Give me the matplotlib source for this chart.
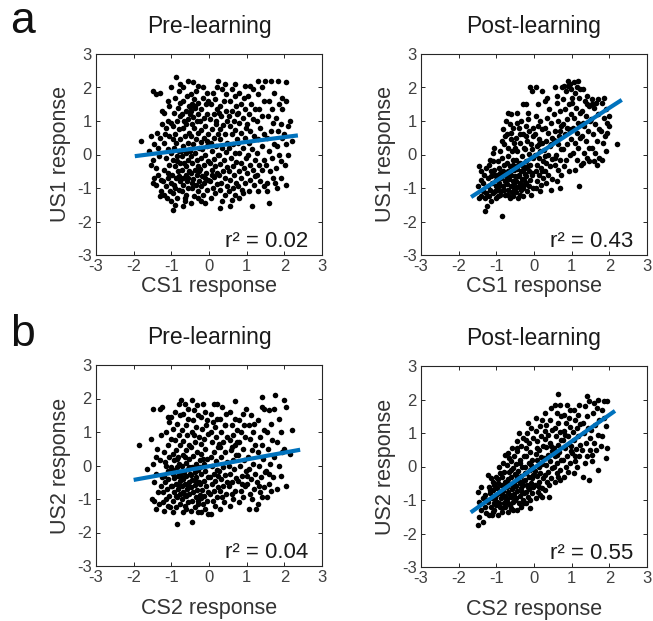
import numpy as np
import matplotlib
matplotlib.use("Agg")
import matplotlib.pyplot as plt

plt.rcParams['font.family'] = ['Liberation Sans', 'DejaVu Sans']
plt.rcParams['axes.unicode_minus'] = False

# ---- data (x = CS response, y = US response) ----
pre1 = [(-1.8,0.4),(-1.55,0.55),(-1.5,1.9),(-1.42,1.8),(-1.55,-0.3),(-1.5,-0.85),(-1.45,-0.7),(-1.6,0.1),(-1.45,0.3),(-1.5,-0.15),
        (-1.4,-0.9),(-1.35,-0.6),(-1.3,-1.25),(-1.28,-1.1),(-1.35,0.2),(-1.3,0.5),(-1.25,0.9),(-1.3,1.85),(-1.4,-0.4),(-1.32,-0.05),(-1.27,-0.75),(-1.38,0.65),(-1.26,1.3),
        (-1.2,-1.2),(-1.15,-0.95),(-1.1,-0.7),(-1.2,-0.45),(-1.05,-0.3),(-1.15,-0.1),(-1.1,0.15),(-1.2,0.35),(-1.05,0.55),(-1.15,0.8),(-1.1,1.0),(-1.2,1.25),(-1.05,1.45),(-1.0,-1.4),(-1.12,-1.3),(-1.0,-0.85),(-1.08,-0.55),(-1.02,0.05),(-1.18,0.6),(-1.0,0.95),(-1.1,1.6),(-1.0,2.0),(-1.22,-0.8),(-1.03,-1.1),
        (-0.95,-1.65),(-0.9,-1.5),(-0.85,-1.3),(-0.95,-1.15),(-0.8,-1.05),(-0.92,-0.9),(-0.78,-0.8),(-0.88,-0.7),(-0.97,-0.6),(-0.82,-0.5),(-0.9,-0.35),(-0.77,-0.25),(-0.95,-0.15),(-0.85,-0.05),(-0.8,0.1),(-0.93,0.2),(-0.87,0.35),(-0.76,0.45),(-0.9,0.6),(-0.8,0.75),(-0.95,0.85),(-0.85,1.0),(-0.78,1.15),(-0.92,1.25),(-0.83,1.4),(-0.76,1.55),(-0.9,1.7),(-0.8,1.9),(-0.88,2.3),(-0.77,2.1),(-0.96,0.45),(-0.8,-0.65),(-0.9,-1.0),(-0.84,-0.2),
        (-0.7,-1.55),(-0.65,-1.4),(-0.6,-1.2),(-0.72,-1.1),(-0.55,-1.0),(-0.68,-0.9),(-0.58,-0.8),(-0.7,-0.7),(-0.62,-0.6),(-0.52,-0.5),(-0.73,-0.45),(-0.6,-0.35),(-0.67,-0.25),(-0.55,-0.15),(-0.72,-0.05),(-0.6,0.05),(-0.5,0.15),(-0.7,0.25),(-0.57,0.35),(-0.65,0.55),(-0.52,0.65),(-0.7,0.8),(-0.6,0.9),(-0.55,1.05),(-0.72,1.2),(-0.62,1.3),(-0.53,1.45),(-0.68,1.6),(-0.58,1.75),(-0.7,2.0),(-0.55,2.2),(-0.63,-1.3),(-0.56,-0.7),(-0.74,0.1),(-0.51,1.2),(-0.66,1.0),
        (-0.48,-1.45),(-0.4,-1.25),(-0.3,-1.1),(-0.45,-1.0),(-0.35,-0.9),(-0.27,-0.8),(-0.42,-0.72),(-0.32,-0.62),(-0.47,-0.55),(-0.38,-0.45),(-0.28,-0.35),(-0.44,-0.25),(-0.33,-0.15),(-0.48,-0.05),(-0.38,0.05),(-0.27,0.2),(-0.43,0.3),(-0.35,0.45),(-0.48,0.55),(-0.3,0.65),(-0.4,0.78),(-0.46,0.9),(-0.33,1.0),(-0.42,1.12),(-0.28,1.2),(-0.48,1.3),(-0.37,1.38),(-0.44,1.5),(-0.3,1.55),(-0.4,1.65),(-0.47,1.8),(-0.35,1.9),(-0.42,2.15),(-0.28,2.05),(-0.3,-1.3),(-0.45,-0.85),(-0.26,-0.5),(-0.5,0.1),(-0.36,1.45),(-0.5,1.42),
        (-0.2,-1.4),(-0.1,-1.45),(-0.15,-1.2),(-0.05,-1.05),(-0.22,-0.95),(-0.12,-0.85),(-0.02,-0.75),(-0.18,-0.65),(-0.08,-0.55),(-0.23,-0.42),(-0.13,-0.3),(-0.03,-0.2),(-0.2,-0.1),(-0.1,0.0),(-0.18,0.15),(-0.05,0.25),(-0.22,0.38),(-0.12,0.5),(-0.02,0.62),(-0.2,0.72),(-0.1,0.85),(-0.24,1.0),(-0.14,1.1),(-0.04,1.2),(-0.2,1.35),(-0.08,1.5),(-0.17,1.7),(-0.05,1.85),(-0.15,2.0),(-0.02,1.6),(-0.1,-0.7),(-0.06,0.4),
        (0.05,-1.3),(0.15,-1.15),(0.1,-1.0),(0.22,-0.88),(0.03,-0.8),(0.13,-0.68),(0.2,-0.55),(0.07,-0.45),(0.17,-0.35),(0.02,-0.25),(0.12,-0.12),(0.23,0.0),(0.08,0.1),(0.18,0.25),(0.04,0.35),(0.14,0.48),(0.24,0.6),(0.09,0.75),(0.19,0.9),(0.03,1.05),(0.13,1.2),(0.22,1.35),(0.06,1.5),(0.16,1.65),(0.1,1.85),(0.2,2.0),(0.24,2.2),(0.08,-0.6),(0.18,1.0),
        (0.3,-1.6),(0.35,-1.4),(0.42,-1.2),(0.28,-1.05),(0.47,-0.95),(0.33,-0.85),(0.43,-0.7),(0.27,-0.6),(0.38,-0.5),(0.48,-0.38),(0.3,-0.28),(0.4,-0.15),(0.27,-0.02),(0.45,0.08),(0.35,0.2),(0.48,0.35),(0.3,0.45),(0.42,0.6),(0.28,0.75),(0.38,0.88),(0.47,1.0),(0.32,1.15),(0.44,1.3),(0.3,1.45),(0.4,1.6),(0.46,1.8),(0.35,1.95),(0.43,2.1),(0.27,1.25),
        (0.55,-1.55),(0.6,-1.35),(0.7,-1.2),(0.52,-1.1),(0.65,-1.0),(0.72,-0.85),(0.57,-0.75),(0.67,-0.6),(0.53,-0.48),(0.63,-0.35),(0.73,-0.22),(0.58,-0.1),(0.68,0.05),(0.54,0.2),(0.64,0.32),(0.74,0.45),(0.6,0.6),(0.7,0.72),(0.55,0.85),(0.66,1.0),(0.52,1.15),(0.62,1.3),(0.72,1.45),(0.57,1.6),(0.68,1.75),(0.6,1.95),(0.7,2.1),(0.74,1.2),
        (0.8,-1.3),(0.9,-1.15),(0.78,-0.95),(0.95,-0.85),(0.85,-0.7),(0.8,-0.5),(0.92,-0.4),(0.85,-0.25),(0.97,-0.1),(0.8,0.05),(0.9,0.2),(0.78,0.35),(0.95,0.5),(0.85,0.65),(0.98,0.8),(0.8,0.95),(0.9,1.1),(0.77,1.25),(0.95,1.35),(0.85,1.5),(0.92,1.7),(0.8,1.85),(0.95,2.05),(0.88,-1.05),
        (1.15,-1.55),(1.05,-1.1),(1.2,-0.9),(1.1,-0.75),(1.02,-0.55),(1.18,-0.45),(1.08,-0.3),(1.22,-0.15),(1.04,0.0),(1.15,0.15),(1.05,0.35),(1.2,0.55),(1.1,0.7),(1.02,0.9),(1.17,1.05),(1.07,1.2),(1.22,1.35),(1.12,1.5),(1.03,1.75),(1.18,1.95),(1.08,2.05),(1.22,-0.65),
        (1.3,-1.1),(1.45,-0.95),(1.35,-0.8),(1.27,-0.6),(1.42,-0.45),(1.32,-0.3),(1.47,-0.15),(1.28,0.05),(1.4,0.25),(1.3,0.45),(1.45,0.6),(1.35,0.8),(1.27,1.0),(1.42,1.15),(1.32,1.35),(1.47,1.6),(1.3,1.8),(1.4,2.0),(1.3,2.2),(1.48,2.2),
        (1.6,-1.45),(1.55,-0.85),(1.7,-0.7),(1.62,-0.5),(1.52,-0.3),(1.68,-0.1),(1.58,0.1),(1.72,0.3),(1.55,0.5),(1.65,0.7),(1.7,0.95),(1.57,1.15),(1.67,1.35),(1.6,1.6),(1.72,1.85),(1.65,2.2),(1.53,-1.1),
        (1.8,-1.0),(1.9,-0.7),(1.78,-0.4),(1.92,-0.2),(1.85,0.0),(1.8,0.25),(1.95,0.5),(1.82,0.7),(1.9,0.9),(1.78,1.1),(1.95,1.35),(1.85,1.5),(1.95,1.7),(1.83,2.2),(1.76,-0.85),
        (2.05,-0.9),(2.02,-0.3),(2.1,0.0),(2.05,0.3),(2.2,0.4),(2.0,0.6),(2.15,1.0),(2.05,1.6),(2.05,2.15),(2.1,0.85)]

post1 = [(-1.45,-0.35),(-1.4,-0.5),(-1.48,-0.95),(-1.35,-1.1),(-1.42,-1.25),(-1.3,-1.3),(-1.27,-1.15),(-1.4,-0.75),(-1.32,-0.6),(-1.45,-1.3),(-1.3,-1.7),(-1.25,-1.55),(-1.35,-0.85),(-1.28,-0.4),
         (-1.2,-0.3),(-1.1,-0.2),(-1.15,-0.5),(-1.05,-0.6),(-1.22,-0.7),(-1.12,-0.85),(-1.02,-0.95),(-1.18,-1.05),(-1.08,-1.15),(-1.2,-1.25),(-1.0,-1.3),(-1.15,-1.4),(-1.05,-0.45),(-1.1,0.05),(-1.23,-0.95),(-1.0,-0.75),(-1.13,-0.65),(-1.03,-1.1),(-1.17,-0.15),(-1.06,0.2),
         (-0.95,-0.2),(-0.85,-0.1),(-0.9,0.1),(-0.8,0.3),(-0.78,0.55),(-0.75,1.0),(-0.83,0.75),(-0.92,-0.4),(-0.82,-0.5),(-0.97,-0.6),(-0.87,-0.7),(-0.77,-0.8),(-0.93,-0.85),(-0.83,-0.95),(-0.98,-1.05),(-0.88,-1.1),(-0.78,-1.2),(-0.95,-1.25),(-0.85,-1.85),(-0.8,-0.3),(-0.9,-0.55),(-0.76,-0.6),(-0.86,0.4),(-0.94,-0.95),(-0.8,-1.05),(-0.9,-1.2),
         (-0.7,1.25),(-0.6,1.2),(-0.65,0.9),(-0.55,0.8),(-0.72,0.6),(-0.62,0.45),(-0.52,0.35),(-0.7,0.2),(-0.58,0.1),(-0.68,-0.05),(-0.55,-0.15),(-0.73,-0.25),(-0.63,-0.35),(-0.52,-0.45),(-0.7,-0.5),(-0.6,-0.6),(-0.5,-0.65),(-0.67,-0.72),(-0.57,-0.8),(-0.72,-0.88),(-0.62,-0.95),(-0.52,-1.0),(-0.68,-1.05),(-0.58,-1.12),(-0.7,-1.2),(-0.55,-1.25),(-0.64,-1.3),(-0.53,-0.85),(-0.66,-0.55),(-0.56,-0.3),(-0.74,-0.65),(-0.6,0.65),
         (-0.45,1.25),(-0.35,1.0),(-0.4,0.8),(-0.3,0.6),(-0.47,0.5),(-0.37,0.35),(-0.27,0.2),(-0.44,0.1),(-0.33,-0.05),(-0.48,-0.15),(-0.38,-0.25),(-0.28,-0.35),(-0.45,-0.42),(-0.35,-0.5),(-0.25,-0.58),(-0.42,-0.65),(-0.32,-0.72),(-0.47,-0.8),(-0.37,-0.85),(-0.27,-0.9),(-0.44,-0.98),(-0.34,-1.05),(-0.48,-1.12),(-0.38,-1.2),(-0.28,-1.25),(-0.43,-1.3),(-0.3,-0.45),(-0.4,-0.6),(-0.26,-0.75),(-0.46,0.95),(-0.3,1.5),(-0.36,0.6),(-0.5,0.2),(-0.42,-0.3),(-0.29,-1.0),(-0.39,-0.95),
         (-0.2,1.5),(-0.1,2.0),(-0.05,1.9),(-0.15,1.05),(-0.22,0.85),(-0.12,0.7),(-0.02,0.55),(-0.18,0.4),(-0.08,0.3),(-0.23,0.15),(-0.13,0.02),(-0.03,-0.1),(-0.2,-0.2),(-0.1,-0.3),(-0.24,-0.4),(-0.14,-0.5),(-0.04,-0.55),(-0.2,-0.65),(-0.1,-0.75),(-0.22,-0.85),(-0.12,-0.95),(-0.02,-1.0),(-0.18,-1.1),(-0.08,-1.2),(-0.15,-0.35),(-0.05,0.15),(-0.03,0.8),(-0.17,1.25),(-0.06,-0.6),(-0.2,0.55),
         (0.05,1.15),(0.15,1.0),(0.1,0.85),(0.2,0.75),(0.03,0.6),(0.13,0.45),(0.22,0.35),(0.07,0.25),(0.17,0.1),(0.02,0.0),(0.12,-0.1),(0.23,-0.2),(0.08,-0.3),(0.18,-0.4),(0.04,-0.5),(0.14,-0.6),(0.24,-0.7),(0.09,-0.8),(0.19,-0.9),(0.05,-1.0),(0.15,-1.1),(0.1,1.5),(0.2,1.9),(0.05,2.0),(0.12,0.3),(0.22,-0.5),
         (0.3,1.6),(0.4,1.35),(0.35,1.1),(0.45,0.95),(0.28,0.8),(0.38,0.65),(0.48,0.5),(0.33,0.4),(0.43,0.25),(0.27,0.12),(0.37,0.0),(0.47,-0.12),(0.32,-0.25),(0.42,-0.35),(0.28,-0.48),(0.38,-0.6),(0.48,-0.72),(0.33,-0.85),(0.45,-1.05),(0.35,1.7),(0.45,0.3),(0.3,-0.05),
         (0.55,2.0),(0.6,1.55),(0.7,1.3),(0.52,1.2),(0.65,1.0),(0.72,0.85),(0.57,0.7),(0.67,0.55),(0.53,0.42),(0.63,0.3),(0.73,0.15),(0.58,0.0),(0.68,-0.15),(0.55,-0.3),(0.65,-0.45),(0.73,-0.6),(0.7,-1.0),(0.6,-0.8),(0.75,2.0),(0.62,1.75),(0.7,0.7),(0.56,-0.1),
         (0.8,2.05),(0.9,2.2),(0.95,2.1),(0.85,1.9),(0.78,1.65),(0.92,1.5),(0.82,1.35),(0.97,1.2),(0.87,1.05),(0.77,0.9),(0.93,0.75),(0.83,0.6),(0.98,0.45),(0.88,0.3),(0.78,0.15),(0.95,0.0),(0.85,-0.15),(0.8,-0.35),(0.92,-0.5),(0.97,1.95),(0.88,0.8),(0.9,2.05),
         (1.05,2.15),(1.15,2.0),(1.1,1.85),(1.2,1.7),(1.02,1.55),(1.12,1.4),(1.22,1.25),(1.07,1.1),(1.17,0.95),(1.03,0.8),(1.13,0.65),(1.23,0.5),(1.08,0.35),(1.18,0.2),(1.04,0.05),(1.14,-0.15),(1.24,-0.3),(1.2,-0.95),(1.1,-0.45),(1.0,1.7),(1.18,2.2),(1.22,1.95),
         (1.3,1.95),(1.4,1.75),(1.35,1.6),(1.45,1.45),(1.28,1.3),(1.38,1.15),(1.48,1.0),(1.33,0.85),(1.43,0.7),(1.27,0.55),(1.37,0.4),(1.47,0.2),(1.32,0.05),(1.42,-0.1),(1.3,-0.25),(1.45,-0.2),(1.4,1.5),(1.3,0.95),
         (1.55,1.65),(1.65,1.55),(1.6,1.4),(1.7,1.2),(1.52,1.05),(1.62,0.9),(1.72,0.75),(1.57,0.6),(1.67,0.4),(1.53,0.2),(1.63,0.05),(1.73,-0.1),(1.58,-0.2),(1.68,-0.3),(1.55,1.5),(1.7,1.65),
         (1.8,1.55),(1.9,1.35),(1.85,1.1),(1.95,0.95),(1.78,0.7),(1.88,0.55),(1.98,0.85),(1.82,0.35),(1.92,0.1),(1.8,-0.15),(2.0,1.15),(2.2,0.3),(1.95,0.65),(1.85,1.7)]

pre2 = [(-1.85,0.6),(-1.65,-0.1),(-1.55,0.8),(-1.5,1.7),(-1.52,-1.0),(-1.5,0.05),
        (-1.45,-1.05),(-1.4,-1.3),(-1.35,-0.8),(-1.28,-0.6),(-1.42,-0.25),(-1.3,0.15),(-1.38,0.5),(-1.27,0.9),(-1.25,1.75),(-1.3,1.7),(-1.45,-0.5),(-1.33,-1.15),(-1.26,-0.35),(-1.4,0.25),
        (-1.2,-1.35),(-1.1,-1.2),(-1.15,-1.0),(-1.05,-0.9),(-1.22,-0.8),(-1.12,-0.7),(-1.02,-0.6),(-1.18,-0.5),(-1.08,-0.4),(-1.2,-0.3),(-1.1,-0.15),(-1.0,-0.05),(-1.17,0.1),(-1.07,0.25),(-1.2,0.4),(-1.1,0.6),(-1.0,0.8),(-1.15,1.0),(-1.05,1.3),(-1.1,1.45),(-1.02,1.45),(-1.22,-1.1),(-1.03,-1.25),(-1.14,0.0),
        (-0.95,-1.4),(-0.85,-1.75),(-0.88,-1.25),(-0.78,-1.15),(-0.95,-1.05),(-0.85,-0.95),(-0.76,-0.85),(-0.92,-0.78),(-0.82,-0.7),(-0.97,-0.62),(-0.87,-0.55),(-0.77,-0.45),(-0.93,-0.38),(-0.83,-0.3),(-0.78,-0.2),(-0.95,-0.12),(-0.85,-0.05),(-0.8,0.05),(-0.92,0.15),(-0.83,0.25),(-0.96,0.35),(-0.87,0.45),(-0.78,0.6),(-0.9,0.75),(-0.8,0.9),(-0.95,1.1),(-0.85,1.25),(-0.77,1.5),(-0.9,1.6),(-0.8,1.85),(-0.75,1.95),(-0.88,-0.9),(-0.8,-0.6),(-0.96,-0.25),(-0.86,0.2),
        (-0.7,-1.4),(-0.6,-1.3),(-0.65,-1.2),(-0.55,-1.1),(-0.72,-1.0),(-0.62,-0.92),(-0.52,-0.85),(-0.68,-0.78),(-0.58,-0.7),(-0.73,-0.62),(-0.63,-0.55),(-0.53,-0.48),(-0.7,-0.4),(-0.6,-0.32),(-0.5,-0.25),(-0.67,-0.18),(-0.57,-0.1),(-0.72,-0.02),(-0.62,0.08),(-0.52,0.18),(-0.7,0.3),(-0.6,0.45),(-0.53,0.6),(-0.68,0.72),(-0.58,0.9),(-0.72,1.05),(-0.6,1.2),(-0.55,1.4),(-0.68,1.55),(-0.57,1.7),(-0.65,1.85),(-0.66,-0.85),(-0.56,-0.6),(-0.74,-0.3),(-0.54,-0.05),(-0.64,0.25),
        (-0.45,-1.7),(-0.48,-1.35),(-0.38,-1.25),(-0.28,-1.15),(-0.45,-1.05),(-0.35,-0.95),(-0.25,-0.88),(-0.42,-0.8),(-0.32,-0.72),(-0.47,-0.65),(-0.37,-0.58),(-0.27,-0.5),(-0.44,-0.42),(-0.34,-0.35),(-0.48,-0.28),(-0.38,-0.2),(-0.28,-0.12),(-0.45,-0.05),(-0.35,0.05),(-0.25,0.15),(-0.42,0.28),(-0.32,0.4),(-0.47,0.55),(-0.37,0.7),(-0.27,0.85),(-0.45,1.0),(-0.35,1.15),(-0.42,1.35),(-0.3,1.5),(-0.4,1.65),(-0.32,1.8),(-0.45,1.95),(-0.35,-0.45),(-0.3,-1.05),(-0.4,0.9),(-0.3,-1.4),
        (-0.2,-1.4),(-0.1,-1.3),(-0.15,-1.15),(-0.05,-1.05),(-0.22,-0.98),(-0.12,-0.9),(-0.02,-0.8),(-0.18,-0.72),(-0.08,-0.62),(-0.23,-0.55),(-0.13,-0.45),(-0.03,-0.35),(-0.2,-0.25),(-0.1,-0.15),(-0.24,-0.05),(-0.14,0.05),(-0.04,0.2),(-0.2,0.35),(-0.1,0.5),(-0.22,0.65),(-0.12,0.8),(-0.02,0.95),(-0.18,1.1),(-0.08,1.2),(-0.2,1.45),(-0.1,1.6),(-0.05,1.35),(-0.15,1.85),(-0.03,-1.45),(-0.16,0.2),
        (0.05,-1.45),(0.15,-1.2),(0.1,-1.05),(0.2,-0.95),(0.03,-0.85),(0.13,-0.75),(0.23,-0.65),(0.07,-0.55),(0.17,-0.45),(0.02,-0.35),(0.12,-0.25),(0.22,-0.12),(0.08,0.0),(0.18,0.12),(0.04,0.25),(0.14,0.4),(0.24,0.55),(0.09,0.7),(0.19,0.85),(0.05,1.0),(0.15,1.15),(0.1,1.3),(0.2,1.4),(0.06,1.55),(0.22,1.85),(0.12,1.85),(0.25,-0.3),
        (0.3,-1.3),(0.4,-1.1),(0.35,-0.95),(0.45,-0.85),(0.28,-0.75),(0.38,-0.62),(0.48,-0.5),(0.33,-0.4),(0.43,-0.28),(0.27,-0.15),(0.37,-0.05),(0.47,0.1),(0.32,0.25),(0.42,0.4),(0.28,0.55),(0.38,0.7),(0.48,0.85),(0.33,1.0),(0.43,1.2),(0.3,1.4),(0.45,1.55),(0.35,1.75),(0.42,1.2),(0.27,0.65),
        (0.55,-1.2),(0.65,-1.0),(0.6,-0.85),(0.7,-0.75),(0.52,-0.6),(0.62,-0.5),(0.72,-0.38),(0.57,-0.25),(0.67,-0.1),(0.53,0.0),(0.63,0.15),(0.73,0.3),(0.58,0.45),(0.68,0.6),(0.55,0.75),(0.65,0.9),(0.75,1.05),(0.6,1.2),(0.7,1.4),(0.55,1.6),(0.7,1.92),(0.62,0.55),(0.74,0.7),
        (0.8,-1.1),(0.9,-0.95),(0.85,-0.75),(0.95,-0.6),(0.78,-0.45),(0.88,-0.3),(0.98,-0.15),(0.83,0.0),(0.93,0.15),(0.78,0.3),(0.9,0.5),(0.8,0.7),(0.95,0.85),(0.85,1.0),(0.92,1.2),(0.8,1.35),(0.9,1.55),(0.97,1.7),(0.87,-0.55),
        (1.05,-1.3),(1.15,-1.0),(1.1,-0.85),(1.2,-0.7),(1.02,-0.55),(1.12,-0.4),(1.22,-0.25),(1.07,-0.1),(1.17,0.05),(1.03,0.25),(1.13,0.45),(1.23,0.6),(1.08,0.8),(1.18,1.0),(1.05,1.2),(1.2,1.25),(1.12,1.5),(1.0,-0.3),
        (1.25,-1.3),(1.3,-1.15),(1.4,-0.95),(1.35,-0.8),(1.45,-0.65),(1.28,-0.5),(1.38,-0.35),(1.48,-0.2),(1.33,0.0),(1.43,0.2),(1.3,0.4),(1.4,0.6),(1.35,0.85),(1.45,1.05),(1.3,1.35),(1.4,1.75),(1.45,1.7),(1.4,2.05),(1.32,-0.6),
        (1.55,-0.95),(1.65,-0.75),(1.6,-0.55),(1.7,-0.35),(1.52,-0.15),(1.62,0.05),(1.72,0.25),(1.57,0.5),(1.67,0.75),(1.55,1.0),(1.65,1.25),(1.6,1.65),(1.72,1.7),(1.75,2.1),(1.6,-0.25),
        (1.8,-0.7),(1.9,-0.3),(1.85,0.0),(1.95,0.4),(1.8,0.7),(1.9,1.0),(1.85,1.4),(2.05,1.75),(2.0,1.95),(2.05,-0.6),(2.2,1.05),(2.0,0.5),(2.15,0.35)]

post2 = [(-1.5,-1.75),(-1.45,-1.5),(-1.35,-1.65),(-1.4,-1.3),(-1.3,-1.2),(-1.45,-1.05),(-1.48,-0.75),(-1.35,-0.95),(-1.28,-1.4),(-1.4,-0.6),(-1.3,-0.85),(-1.25,-1.0),
         (-1.2,-1.45),(-1.1,-1.35),(-1.15,-1.2),(-1.05,-1.1),(-1.22,-1.05),(-1.12,-0.95),(-1.02,-0.85),(-1.18,-0.8),(-1.08,-0.7),(-1.2,-0.6),(-1.1,-0.45),(-1.0,-0.3),(-1.15,-0.35),(-1.05,-1.3),(-1.23,-0.25),(-1.12,-1.45),(-1.0,-1.15),(-1.07,-0.55),(-1.17,-0.7),(-1.03,-0.95),
         (-0.95,-1.45),(-0.85,-1.35),(-0.9,-1.2),(-0.8,-1.1),(-0.97,-1.05),(-0.87,-0.95),(-0.77,-0.88),(-0.93,-0.8),(-0.83,-0.72),(-0.98,-0.65),(-0.88,-0.55),(-0.78,-0.45),(-0.95,-0.38),(-0.85,-0.3),(-0.8,-0.15),(-0.92,0.0),(-0.82,0.1),(-0.76,0.35),(-0.9,-0.2),(-0.86,-1.25),(-0.78,-1.2),(-0.94,-1.1),(-0.8,-0.6),(-0.75,-1.0),(-0.84,-0.85),(-0.96,-0.5),
         (-0.7,-1.35),(-0.6,-1.25),(-0.65,-1.15),(-0.55,-1.05),(-0.72,-0.98),(-0.62,-0.9),(-0.52,-0.82),(-0.68,-0.75),(-0.58,-0.68),(-0.73,-0.6),(-0.63,-0.52),(-0.53,-0.45),(-0.7,-0.38),(-0.6,-0.3),(-0.5,-0.22),(-0.67,-0.15),(-0.57,-0.05),(-0.72,0.05),(-0.62,0.15),(-0.52,0.3),(-0.68,0.4),(-0.58,0.55),(-0.65,-0.85),(-0.55,-0.6),(-0.74,-0.45),(-0.56,-1.3),(-0.66,0.25),(-0.51,-1.0),(-0.6,-0.1),(-0.7,-1.1),
         (-0.45,-1.3),(-0.35,-1.2),(-0.4,-1.1),(-0.3,-1.0),(-0.47,-0.95),(-0.37,-0.88),(-0.27,-0.8),(-0.44,-0.72),(-0.34,-0.65),(-0.48,-0.58),(-0.38,-0.5),(-0.28,-0.42),(-0.45,-0.35),(-0.35,-0.28),(-0.25,-0.2),(-0.42,-0.12),(-0.32,-0.02),(-0.47,0.08),(-0.37,0.2),(-0.27,0.3),(-0.44,0.45),(-0.34,0.6),(-0.45,0.75),(-0.3,0.85),(-0.4,1.0),(-0.33,-0.75),(-0.42,-0.4),(-0.28,-0.55),(-0.48,-0.25),(-0.36,0.1),(-0.26,-1.1),(-0.46,0.55),
         (-0.2,-1.1),(-0.1,-1.0),(-0.15,-0.9),(-0.05,-0.8),(-0.22,-0.75),(-0.12,-0.68),(-0.02,-0.6),(-0.18,-0.55),(-0.08,-0.48),(-0.23,-0.4),(-0.13,-0.32),(-0.03,-0.25),(-0.2,-0.18),(-0.1,-0.1),(-0.24,0.0),(-0.14,0.1),(-0.04,0.2),(-0.2,0.3),(-0.1,0.42),(-0.22,0.55),(-0.12,0.7),(-0.02,0.85),(-0.18,1.0),(-0.08,1.15),(-0.15,1.3),(-0.05,-0.35),(-0.17,-0.62),(-0.07,0.05),(-0.2,0.8),(-0.1,-1.25),
         (0.05,-0.95),(0.15,-0.85),(0.1,-0.75),(0.2,-0.65),(0.03,-0.55),(0.13,-0.45),(0.23,-0.35),(0.07,-0.28),(0.17,-0.2),(0.02,-0.12),(0.12,-0.02),(0.22,0.08),(0.08,0.18),(0.18,0.28),(0.04,0.38),(0.14,0.5),(0.24,0.62),(0.09,0.75),(0.19,0.9),(0.05,1.05),(0.15,1.2),(0.05,1.45),(0.2,1.4),(0.12,-0.6),(0.22,-0.9),(0.08,0.55),
         (0.3,-0.7),(0.4,-0.55),(0.35,-0.45),(0.45,-0.35),(0.28,-0.25),(0.38,-0.15),(0.48,-0.05),(0.33,0.05),(0.43,0.15),(0.27,0.25),(0.37,0.35),(0.47,0.45),(0.32,0.58),(0.42,0.7),(0.28,0.82),(0.38,0.95),(0.48,1.1),(0.33,1.25),(0.43,1.4),(0.3,1.6),(0.45,1.75),(0.4,-0.9),(0.3,1.05),(0.45,0.6),
         (0.55,-0.45),(0.65,-0.3),(0.6,-0.2),(0.7,-0.1),(0.52,0.0),(0.62,0.1),(0.72,0.2),(0.57,0.3),(0.67,0.42),(0.53,0.55),(0.63,0.65),(0.73,0.78),(0.58,0.9),(0.68,1.02),(0.55,1.15),(0.65,1.3),(0.72,1.5),(0.6,1.6),(0.65,2.15),(0.7,1.85),(0.55,1.85),(0.62,0.35),(0.7,-0.4),
         (0.8,-0.3),(0.9,-0.15),(0.85,0.0),(0.95,0.1),(0.78,0.2),(0.88,0.32),(0.98,0.45),(0.83,0.55),(0.93,0.68),(0.78,0.8),(0.9,0.92),(0.8,1.05),(0.95,1.18),(0.85,1.3),(0.92,1.45),(0.8,1.55),(0.95,1.7),(0.88,1.85),(0.82,0.95),(0.97,0.6),
         (1.05,-0.2),(1.15,0.0),(1.1,0.15),(1.2,0.3),(1.02,0.4),(1.12,0.52),(1.22,0.65),(1.07,0.78),(1.17,0.9),(1.03,1.02),(1.13,1.15),(1.23,1.28),(1.08,1.4),(1.18,1.55),(1.05,1.7),(1.2,1.85),(1.1,0.3),
         (1.3,-0.3),(1.45,-0.4),(1.35,0.1),(1.4,0.3),(1.28,0.5),(1.38,0.7),(1.48,0.85),(1.33,1.0),(1.43,1.15),(1.3,1.3),(1.4,1.5),(1.35,1.8),(1.45,1.95),(1.4,2.1),(1.48,0.5),
         (1.55,0.35),(1.65,0.5),(1.6,0.7),(1.7,0.95),(1.52,1.1),(1.62,1.25),(1.72,1.4),(1.57,1.6),(1.67,1.75),(1.6,1.9),(1.7,2.0),(1.7,-0.1),(1.55,0.15),
         (1.8,0.9),(1.9,1.2),(1.85,1.45),(1.95,0.55),(1.9,0.25),(1.8,1.7),(1.95,1.95),(1.85,1.95),(1.78,0.6)]

# regression line end points (x, y) as drawn
fit_pre1 = ([-1.97, 2.36], [-0.05, 0.57])
fit_post1 = ([-1.67, 2.33], [-1.27, 1.63])
fit_pre2 = ([-2.0, 2.42], [-0.43, 0.47])
fit_post2 = ([-1.68, 2.15], [-1.37, 1.66])

r2_labels = ["0.02", "0.43", "0.04", "0.55"]
titles = ["Pre-learning", "Post-learning", "Pre-learning", "Post-learning"]
xlabels = ["CS1 response", "CS1 response", "CS2 response", "CS2 response"]
ylabels = ["US1 response", "US1 response", "US2 response", "US2 response"]
ticks = [-3, -2, -1, 0, 1, 2, 3]

axcol = "#262626"
blue = "#0072BD"

fig = plt.figure(figsize=(6.53, 6.21), dpi=100)
W, H = 653, 621
boxes = [(96, 54), (421, 54), (96, 365), (421, 366)]
panels = [pre1, post1, pre2, post2]
fits = [fit_pre1, fit_post1, fit_pre2, fit_post2]

for i in range(4):
    left, top = boxes[i]
    ax = fig.add_axes([left / W, 1 - (top + 201) / H, 226 / W, 201 / H])
    pts = np.array(panels[i])
    ax.scatter(pts[:, 0], pts[:, 1], s=16, color="black", linewidths=0, zorder=2)
    ax.plot(fits[i][0], fits[i][1], color=blue, lw=3, solid_capstyle="butt", zorder=3)
    ax.set_xlim(-3, 3)
    ax.set_ylim(-3, 3)
    ax.set_xticks(ticks)
    ax.set_yticks(ticks)
    ax.tick_params(direction="in", length=3, width=0.7, top=True, right=True,
                   labelsize=12, colors=axcol, labelcolor="#404040", pad=3)
    for sp in ax.spines.values():
        sp.set_color(axcol)
        sp.set_linewidth(0.8)
    ax.set_title(titles[i], fontsize=16.5, color="#1a1a1a", pad=15)
    ax.set_xlabel(xlabels[i], fontsize=15.5, color="#333333", labelpad=1 if i < 2 else 9)
    ax.set_ylabel(ylabels[i], fontsize=15.5, color="#333333", labelpad=4)
    ax.text(0.94, 0.04, "r\u00b2 = " + r2_labels[i], transform=ax.transAxes,
            ha="right", va="baseline", fontsize=16, color="#1a1a1a")

fig.text(10 / W, 1 - 33 / H, "a", fontsize=32, ha="left", va="baseline", color="#111111")
fig.text(10 / W, 1 - 346 / H, "b", fontsize=32, ha="left", va="baseline", color="#111111")

fig.savefig("out.png", dpi=100, facecolor="white")
